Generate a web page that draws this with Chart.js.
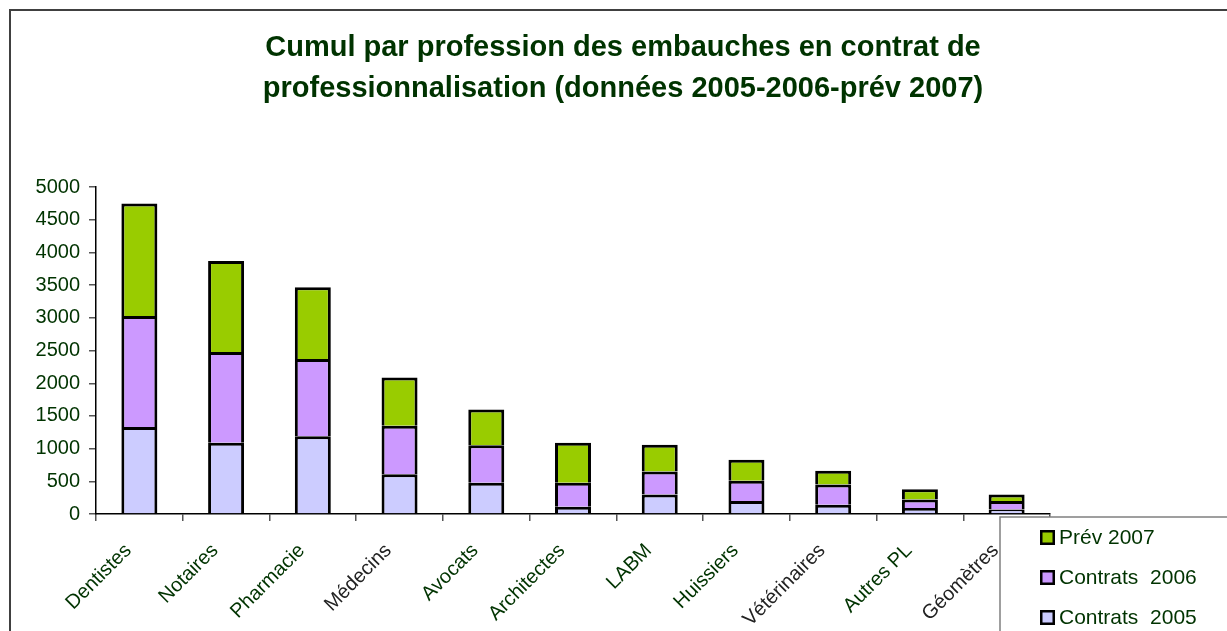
<!DOCTYPE html>
<html>
<head>
<meta charset="utf-8">
<script src="https://cdn.jsdelivr.net/npm/chart.js@4.4.1/dist/chart.umd.min.js"></script>
<style>
  html, body { margin: 0; padding: 0; background: #ffffff; }
  #wrap { width: 1227px; height: 631px; }
</style>
</head>
<body>
<div id="wrap"><canvas id="c" width="1227" height="631"></canvas></div>
<script>
const titleLines = [
  'Cumul par profession des embauches en contrat de',
  'professionnalisation (données 2005-2006-prév 2007)'
];
const categories = ['Dentistes', 'Notaires', 'Pharmacie', 'Médecins', 'Avocats', 'Architectes', 'LABM', 'Huissiers', 'Vétérinaires', 'Autres PL', 'Géomètres'];
const seriesNames = ['Contrats  2005', 'Contrats  2006', 'Prév 2007'];
const contrats2005 = [1330, 1090, 1190, 610, 480, 110, 300, 200, 140, 90, 70];
const contrats2006 = [1700, 1390, 1180, 740, 570, 370, 350, 310, 310, 130, 130];
const prev2007 = [1720, 1390, 1100, 740, 550, 610, 410, 320, 210, 160, 100];
const yTickValues = [0, 500, 1000, 1500, 2000, 2500, 3000, 3500, 4000, 4500, 5000];

const FONT = '"Liberation Sans", Arial, sans-serif';
const GREEN_TEXT = '#003300';
const GRAY_TEXT = '#222222';
const darkLabels = ['Médecins', 'Vétérinaires', 'Géomètres'];

const framePlugin = {
  id: 'frame',
  beforeDraw(chart) {
    const ctx = chart.ctx;
    ctx.save();
    ctx.fillStyle = '#ffffff';
    ctx.fillRect(0, 0, chart.width, chart.height);
    ctx.strokeStyle = '#404040';
    ctx.lineWidth = 2;
    ctx.strokeRect(10, 10, chart.width + 50, chart.height + 50);
    ctx.restore();
  }
};

const legendPlugin = {
  id: 'boxLegend',
  afterDraw(chart) {
    const ctx = chart.ctx;
    const x0 = 1000, y0 = 517;
    ctx.save();
    ctx.fillStyle = '#ffffff';
    ctx.fillRect(x0, y0, chart.width - x0 + 10, chart.height - y0 + 10);
    ctx.strokeStyle = '#808080';
    ctx.lineWidth = 1.5;
    ctx.strokeRect(x0, y0, chart.width - x0 + 20, chart.height - y0 + 20);
    const ds = chart.data.datasets.slice().reverse();
    ctx.font = '21px ' + FONT;
    ctx.textBaseline = 'middle';
    ctx.textAlign = 'left';
    ds.forEach((d, i) => {
      const cy = 537 + i * 40;
      ctx.fillStyle = '#000000';
      ctx.fillRect(1040, cy - 7, 15, 15);
      ctx.fillStyle = d.backgroundColor;
      ctx.fillRect(1042.5, cy - 4.5, 10, 10);
      ctx.fillStyle = GREEN_TEXT;
      ctx.fillText(d.label, 1059, cy + 1);
    });
    ctx.restore();
  }
};

new Chart(document.getElementById('c'), {
  type: 'bar',
  data: {
    labels: categories,
    datasets: [
      { label: seriesNames[0], data: contrats2005, backgroundColor: '#CCCCFF', borderColor: '#000000', borderWidth: 3 },
      { label: seriesNames[1], data: contrats2006, backgroundColor: '#CC99FF', borderColor: '#000000', borderWidth: 3 },
      { label: seriesNames[2], data: prev2007, backgroundColor: '#99CC00', borderColor: '#000000', borderWidth: 3 }
    ]
  },
  options: {
    responsive: false,
    animation: false,
    devicePixelRatio: 1,
    layout: { padding: { left: 19, right: 0, top: 0, bottom: 0 } },
    datasets: { bar: { categoryPercentage: 1, barPercentage: 0.415, borderSkipped: 'start' } },
    plugins: {
      legend: { display: false },
      tooltip: { enabled: false },
      title: {
        display: true,
        text: titleLines,
        color: GREEN_TEXT,
        font: { family: FONT, size: 29, weight: 'bold', lineHeight: 1.4 },
        padding: { top: 28, bottom: 78 }
      }
    },
    scales: {
      x: {
        stacked: true,
        offset: true,
        grid: { display: true, drawOnChartArea: false, drawTicks: true, tickLength: 7, color: '#555555', offset: true, lineWidth: 1.5 },
        border: { display: true, color: '#000000', width: 1.5 },
        ticks: {
          autoSkip: false,
          minRotation: 45,
          maxRotation: 45,
          padding: 18,
          labelOffset: -11,
          font: { family: FONT, size: 20 },
          color: (c) => darkLabels.includes(categories[c.index]) ? GRAY_TEXT : GREEN_TEXT
        },
        afterFit: (a) => { a.height = 117; }
      },
      y: {
        stacked: true,
        min: 0,
        max: 5000,
        afterBuildTicks: (a) => { a.ticks = yTickValues.map(v => ({ value: v })); },
        grid: { display: true, drawOnChartArea: false, drawTicks: true, tickLength: 7, color: '#555555', lineWidth: 1.5 },
        border: { display: true, color: '#000000', width: 1.5 },
        ticks: { padding: 9, font: { family: FONT, size: 20 }, color: GREEN_TEXT, callback: (v) => String(v) },
        afterFit: (a) => { a.width = 77; }
      },
      yRight: {
        position: 'right',
        display: true,
        grid: { display: false },
        border: { display: false },
        ticks: { display: false },
        afterFit: (a) => { a.width = 177; }
      }
    }
  },
  plugins: [framePlugin, legendPlugin]
});
</script>
</body>
</html>
